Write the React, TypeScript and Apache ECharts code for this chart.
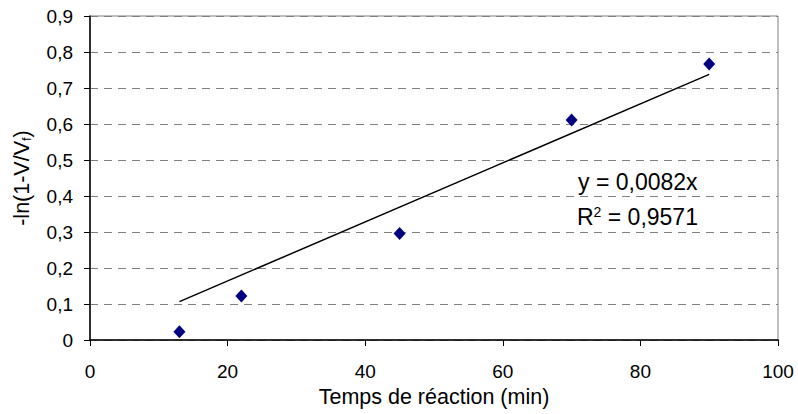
import React, { useEffect, useRef } from "react";
import * as echarts from "echarts";

const reactionTime = [13, 22, 45, 70, 90];
const lnValues = [0.023, 0.122, 0.296, 0.611, 0.767];
const trendX = [13, 90];
const trendY = [0.1066, 0.738];
const xTickLabels = ["0", "20", "40", "60", "80", "100"];
const yTickLabels = ["0", "0,1", "0,2", "0,3", "0,4", "0,5", "0,6", "0,7", "0,8", "0,9"];
const equationText = "y = 0,0082x";
const r2Text = "R{sup|2} = 0,9571";

const FONT = "Liberation Sans";

export default function App() {
  const ref = useRef<HTMLDivElement>(null);
  useEffect(() => {
    document.body.style.margin = "0";
    const chart = echarts.init(ref.current!, null, { renderer: "svg" });
    chart.setOption({
      animation: false,
      backgroundColor: "#ffffff",
      textStyle: { fontFamily: FONT },
      grid: {
        left: 90,
        right: 20,
        top: 16,
        bottom: 74,
        show: true,
        borderColor: "#808080",
        borderWidth: 1,
      },
      xAxis: {
        type: "value",
        min: 0,
        max: 100,
        interval: 20,
        name: "Temps de réaction (min)",
        nameLocation: "middle",
        nameGap: 46,
        nameTextStyle: { fontFamily: FONT, fontSize: 21.5, color: "#000" },
        axisLine: { show: true, onZero: false, lineStyle: { color: "#000", width: 1.5 } },
        axisTick: { show: true, inside: false, length: 6, lineStyle: { color: "#000" } },
        axisLabel: {
          margin: 22,
          fontFamily: FONT,
          fontSize: 19,
          color: "#000",
          formatter: (_v: number, i: number) => xTickLabels[i],
        },
        splitLine: { show: false },
      },
      yAxis: {
        type: "value",
        min: 0,
        max: 0.9,
        interval: 0.1,
        name: "-ln(1-V/V{sub|f})",
        nameLocation: "middle",
        nameGap: 57,
        nameRotate: 90,
        nameTextStyle: {
          fontFamily: FONT,
          fontSize: 21.5,
          color: "#000",
          rich: {
            sub: { fontFamily: FONT, fontSize: 13, color: "#000", padding: [8, 0, 0, 0] },
          },
        },
        axisLine: { show: true, onZero: false, lineStyle: { color: "#000", width: 1.5 } },
        axisTick: { show: true, inside: false, length: 6, lineStyle: { color: "#000" } },
        axisLabel: {
          margin: 17,
          fontFamily: FONT,
          fontSize: 19,
          color: "#000",
          formatter: (_v: number, i: number) => yTickLabels[i],
        },
        splitLine: {
          show: true,
          lineStyle: { color: "#808080", width: 1, type: [8, 6] },
        },
      },
      series: [
        {
          type: "line",
          data: trendX.map((x, i) => [x, trendY[i]]),
          symbol: "none",
          lineStyle: { color: "#000", width: 1.5 },
          z: 3,
        },
        {
          type: "scatter",
          data: reactionTime.map((x, i) => [x, lnValues[i]]),
          symbol: "diamond",
          symbolSize: [12, 13],
          itemStyle: { color: "#000080", opacity: 1 },
          z: 4,
        },
      ],
      graphic: [
        {
          type: "text",
          left: 578,
          top: 170,
          style: { text: equationText, fontFamily: FONT, fontSize: 23, fill: "#000" },
        },
        {
          type: "text",
          left: 577,
          top: 205,
          style: {
            text: r2Text,
            fontFamily: FONT,
            fontSize: 23,
            fill: "#000",
            rich: {
              sup: { fontFamily: FONT, fontSize: 14, fill: "#000", padding: [0, 0, 10, 0] },
            },
          },
        },
      ],
    });
    return () => chart.dispose();
  }, []);
  return <div ref={ref} style={{ width: 798, height: 414 }} />;
}
